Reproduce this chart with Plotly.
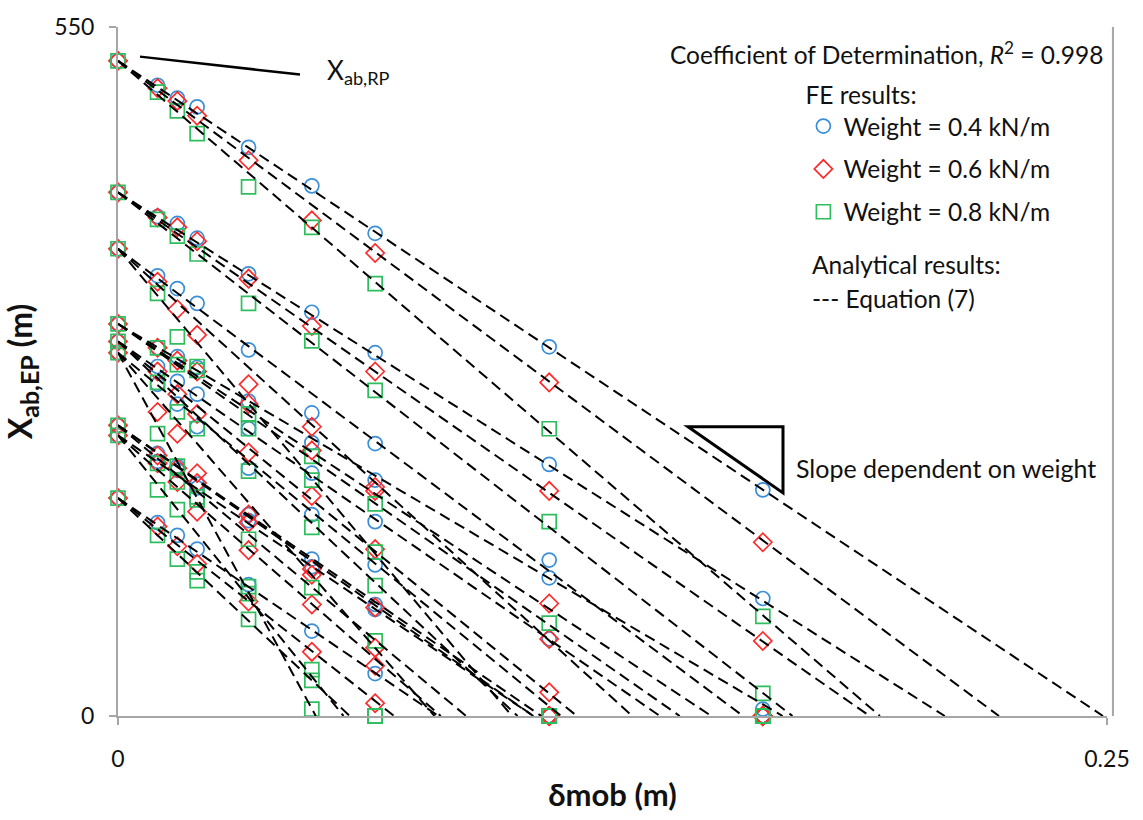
import plotly.graph_objects as go

# ---------------- data ----------------
delta_columns = [0, 0.01, 0.015, 0.02, 0.033, 0.049, 0.065, 0.109, 0.163]
x_ab_rp = [523, 418, 373, 313, 299, 290, 232, 224, 174]

# FE results (X_ab,EP in m) listed per delta_mob column
fe_w04 = [
    [523, 418, 373, 313, 299, 290, 232, 224, 174],
    [503.5, 398.7, 351.4, 293.9, 279.0, 264.8, 209.6, 203.3, 154.4],
    [493.3, 393.2, 341.2, 286.8, 267.1, 249.0, 199.4, 196.2, 144.2],
    [486.2, 381.4, 329.4, 278.2, 256.9, 230.9, 185.2, 182.0, 133.2],
    [453.9, 353.0, 292.3, 251.4, 229.3, 197.8, 160.8, 156.0, 104.8],
    [423.2, 322.3, 241.9, 218.3, 193.8, 160.8, 125.3, 119.0, 67.8],
    [385.3, 290.0, 217.5, 188.3, 155.2, 120.6, 89.0, 85.1, 33.9],
    [294.7, 200.9, 124.5, 110.3, 61.5, 0, 0, 0, 0],
    [180.5, 93.8, 0, 5.5, 0, 0, 0, 0, 0],
]
fe_w06 = [
    [523, 418, 373, 313, 299, 290, 232, 224, 174],
    [501.2, 397.9, 346.7, 293.9, 275.0, 242.7, 208.0, 201.7, 151.3],
    [490.9, 390.1, 324.7, 283.7, 256.9, 225.4, 197.8, 186.8, 135.5],
    [479.1, 379.0, 304.2, 275.0, 241.1, 193.8, 186.0, 163.1, 121.4],
    [443.6, 349.1, 264.8, 249.0, 210.4, 132.4, 160.8, 154.4, 91.4],
    [395.6, 311.3, 230.9, 212.0, 175.7, 117.4, 112.7, 89.0, 51.2],
    [369.6, 275.0, 182.8, 179.7, 133.2, 54.4, 86.7, 40.2, 10.2],
    [266.3, 179.7, 61.5, 89.8, 18.9, 0, 0, 0, 0],
    [138.7, 59.9, 0, 0, 0, 0, 0, 0, 0],
]
fe_w08 = [
    [523, 418, 373, 313, 299, 290, 232, 224, 174],
    [498.0, 396.4, 337.3, 293.9, 266.3, 225.4, 201.7, 180.5, 144.2],
    [483.0, 383.0, 302.6, 280.5, 242.7, 199.4, 186.8, 164.7, 125.3],
    [464.9, 368.8, 279.0, 275.8, 229.3, 174.9, 172.6, 108.0, 115.0],
    [422.4, 329.4, 241.1, 229.3, 195.4, 97.7, 141.1, 77.2, 103.2],
    [390.1, 299.4, 188.3, 207.2, 150.5, 5.5, 102.4, 28.4, 37.0],
    [345.1, 260.0, 130.8, 169.4, 104.0, 0, 59.9, 0, 0],
    [229.3, 155.2, 0, 74.1, 0, 0, 0, 0, 0],
    [79.6, 18.1, 0, 0, 0, 0, 0, 0, 0],
]

# Analytical results, Equation (7): X_ab,EP falls linearly from X_ab,RP to zero
eq_x_ab_rp = [523, 523, 523, 418, 418, 418, 373, 373, 373,
              313, 313, 313, 299, 299, 299, 290, 290, 290,
              232, 232, 232, 224, 224, 224, 174, 174, 174]
eq_delta_at_zero = [0.249, 0.2227, 0.1926, 0.209, 0.190, 0.1705, 0.158, 0.130, 0.0996,
                    0.168, 0.150, 0.142, 0.137, 0.116, 0.101, 0.112, 0.080, 0.050,
                    0.107, 0.105, 0.088, 0.105, 0.0816, 0.057, 0.081, 0.0698, 0.0586]

weights = ["Weight = 0.4 kN/m", "Weight = 0.6 kN/m", "Weight = 0.8 kN/m"]
colors = ["#3b8fd8", "#ff2b2b", "#2fbd5e"]
symbols = ["circle-open", "diamond-open", "square-open"]

FONT = "Lato, Carlito, Calibri, sans-serif"
TXT = "#111111"
AXIS_GRAY = "#a6a6a6"

fig = go.Figure()

for name, col, sym, table in zip(weights, colors, symbols, [fe_w04, fe_w06, fe_w08]):
    xs, ys = [], []
    for xv, yvals in zip(delta_columns, table):
        for yv in yvals:
            xs.append(xv)
            ys.append(yv)
    fig.add_trace(go.Scatter(
        x=xs, y=ys, mode="markers", name=name, legendgroup=name,
        marker=dict(symbol=sym, size=14, color=col, line=dict(width=1.7, color=col)),
        cliponaxis=False,
    ))

lx, ly = [], []
for y0, x0 in zip(eq_x_ab_rp, eq_delta_at_zero):
    lx += [0, x0, None]
    ly += [y0, 0, None]
fig.add_trace(go.Scatter(
    x=lx, y=ly, mode="lines", name="Equation (7)", showlegend=False,
    line=dict(color="black", width=2, dash="11px,6px"),
))

annotations = [
    dict(x=0.998, y=0.962, xref="paper", yref="paper", xanchor="right", yanchor="middle",
         text="Coefficient of Determination, <i>R</i><sup>2</sup> = 0.998", showarrow=False,
         font=dict(family=FONT, size=24.5, color=TXT)),
    dict(x=0.700, y=0.656, xref="paper", yref="paper", xanchor="left", yanchor="middle",
         text="Analytical results:", showarrow=False,
         font=dict(family=FONT, size=24.5, color=TXT)),
    dict(x=0.700, y=0.606, xref="paper", yref="paper", xanchor="left", yanchor="middle",
         text="--- Equation (7)", showarrow=False,
         font=dict(family=FONT, size=24.5, color=TXT)),
    dict(x=0.209, y=0.935, xref="paper", yref="paper", xanchor="left", yanchor="middle",
         text="X<sub>ab,RP</sub>", showarrow=False,
         font=dict(family=FONT, size=26, color=TXT)),
    dict(x=0.6835, y=0.360, xref="paper", yref="paper", xanchor="left", yanchor="middle",
         text="Slope dependent on weight", showarrow=False,
         font=dict(family=FONT, size=25, color=TXT)),
]

shapes = [
    dict(type="line", xref="paper", yref="paper", x0=0.0222, y0=0.957, x1=0.184, y1=0.931,
         line=dict(color="black", width=2.5)),
    dict(type="path", xref="paper", yref="paper",
         path="M 0.5763 0.4198 L 0.6724 0.4198 L 0.6724 0.3238 Z",
         line=dict(color="black", width=3)),
    dict(type="line", xref="paper", yref="paper", x0=1.006, y0=0, x1=1.006, y1=1.0,
         line=dict(color=AXIS_GRAY, width=2)),
]

fig.update_layout(
    width=1143, height=820,
    margin=dict(l=118, r=36, t=18, b=104),
    paper_bgcolor="white", plot_bgcolor="white",
    font=dict(family=FONT, color=TXT),
    showlegend=True,
    legend=dict(
        x=0.693, y=0.935, xanchor="left", yanchor="top",
        title=dict(text="FE results:", font=dict(family=FONT, size=24.5, color=TXT)),
        font=dict(family=FONT, size=24.5, color=TXT),
        traceorder="grouped", tracegroupgap=8,
        bgcolor="rgba(0,0,0,0)", itemwidth=30,
    ),
    annotations=annotations,
    shapes=shapes,
)

fig.update_xaxes(
    range=[0, 0.25], tickvals=[0, 0.25], ticktext=["0", "0.25"],
    showgrid=False, zeroline=False, showline=True, linecolor=AXIS_GRAY, linewidth=2,
    ticks="outside", ticklen=7, tickwidth=2, tickcolor=AXIS_GRAY,
    tickfont=dict(family=FONT, size=23, color=TXT), ticklabelstandoff=14,
    title=dict(text="<b>δmob (m)</b>", font=dict(family=FONT, size=31, color=TXT), standoff=14),
)
fig.update_yaxes(
    range=[0, 550], tickvals=[0, 550], ticktext=["0", "550"],
    showgrid=False, zeroline=False, showline=True, linecolor=AXIS_GRAY, linewidth=2,
    ticks="outside", ticklen=7, tickwidth=2, tickcolor=AXIS_GRAY,
    tickfont=dict(family=FONT, size=23, color=TXT), ticklabelstandoff=10,
    title=dict(text="<b>X<sub><span style='font-size:25px'>ab,EP</span></sub> (m)</b>",
               font=dict(family=FONT, size=32, color=TXT), standoff=14),
)

fig.write_html("out.html")
